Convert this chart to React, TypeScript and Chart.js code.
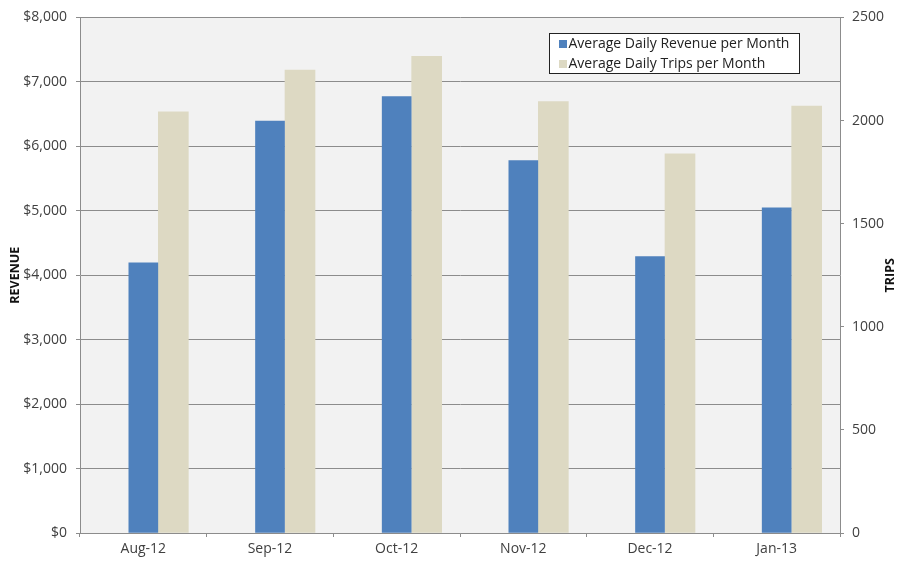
import React, { useEffect, useRef } from "react";
import { Chart, registerables } from "chart.js";

Chart.register(...registerables);

const months = ["Aug-12", "Sep-12", "Oct-12", "Nov-12", "Dec-12", "Jan-13"];
const revenue = [4190, 6390, 6770, 5780, 4290, 5045];
const trips = [2042, 2244, 2311, 2092, 1838, 2070];
const revenueTicks = [0, 1000, 2000, 3000, 4000, 5000, 6000, 7000, 8000];
const tripTicks = [0, 500, 1000, 1500, 2000, 2500];
const legendLabels = ["Average Daily Revenue per Month", "Average Daily Trips per Month"];
const seriesColors = ["#4f81bd", "#ddd9c3"];

const FONT = "'Open Sans', 'DejaVu Sans', sans-serif";
const TEXT = "#404040";
const GRID = "#8c8c8c";

const decorPlugin = {
  id: "decor",
  beforeDraw(chart: any) {
    const { ctx, chartArea } = chart;
    ctx.save();
    ctx.fillStyle = "#ffffff";
    ctx.fillRect(0, 0, chart.width, chart.height);
    ctx.fillStyle = "#f2f2f2";
    ctx.fillRect(chartArea.left, chartArea.top, chartArea.right - chartArea.left, chartArea.bottom - chartArea.top);
    ctx.restore();
  },
  afterDraw(chart: any) {
    const { ctx, chartArea } = chart;
    const midY = (chartArea.top + chartArea.bottom) / 2;
    ctx.save();
    ctx.fillStyle = "#111111";
    ctx.font = `bold 12.5px ${FONT}`;
    ctx.textAlign = "center";
    ctx.textBaseline = "middle";
    ctx.translate(15, midY);
    ctx.rotate(-Math.PI / 2);
    ctx.fillText("REVENUE", 0, 0);
    ctx.restore();

    ctx.save();
    ctx.fillStyle = "#111111";
    ctx.font = `bold 12.5px ${FONT}`;
    ctx.textAlign = "center";
    ctx.textBaseline = "middle";
    ctx.translate(890, midY);
    ctx.rotate(-Math.PI / 2);
    ctx.fillText("TRIPS", 0, 0);
    ctx.restore();

    // legend
    const lx = 549.5, ly = 33.5, lw = 250, lh = 40;
    ctx.save();
    ctx.fillStyle = "#ffffff";
    ctx.fillRect(lx, ly, lw, lh);
    ctx.strokeStyle = "#222222";
    ctx.lineWidth = 1;
    ctx.strokeRect(lx, ly, lw, lh);
    ctx.font = `14px ${FONT}`;
    ctx.textAlign = "left";
    ctx.textBaseline = "middle";
    legendLabels.forEach((label, i) => {
      const cy = 44 + i * 20;
      ctx.fillStyle = seriesColors[i];
      ctx.fillRect(559, cy - 4, 8, 8);
      ctx.fillStyle = "#222222";
      ctx.fillText(label, 568.5, cy + 0.5);
    });
    ctx.restore();
  },
};

export default function App() {
  const ref = useRef<HTMLCanvasElement | null>(null);

  useEffect(() => {
    if (!ref.current) return;
    const chart = new Chart(ref.current, {
      type: "bar",
      data: {
        labels: months,
        datasets: [
          {
            label: "spacer",
            data: months.map(() => null),
            yAxisID: "y",
            barThickness: 29,
            backgroundColor: "rgba(0,0,0,0)",
          },
          {
            label: legendLabels[0],
            data: revenue,
            yAxisID: "y",
            barThickness: 29,
            backgroundColor: seriesColors[0],
            borderWidth: 0,
          },
          {
            label: legendLabels[1],
            data: trips,
            yAxisID: "y1",
            barThickness: 30,
            backgroundColor: seriesColors[1],
            borderWidth: 0,
          },
        ],
      },
      options: {
        responsive: false,
        animation: false,
        devicePixelRatio: 1,
        layout: { padding: { top: 16, bottom: 0, left: 0, right: 0 } },
        plugins: {
          legend: { display: false },
          tooltip: { enabled: false },
        },
        scales: {
          x: {
            type: "category",
            grid: { offset: true, drawOnChartArea: false, tickLength: 4, color: GRID },
            border: { color: GRID },
            ticks: { font: { family: FONT, size: 14 }, color: TEXT, padding: 4, maxRotation: 0 },
            afterFit: (s: any) => { s.height = 28; },
          },
          y: {
            position: "left",
            min: 0,
            max: 8000,
            afterBuildTicks: (s: any) => { s.ticks = revenueTicks.map((v) => ({ value: v })); },
            ticks: {
              font: { family: FONT, size: 14 },
              color: TEXT,
              padding: 9,
              callback: (v: any) => "$" + Number(v).toLocaleString("en-US"),
            },
            grid: { color: GRID, tickLength: 4 },
            border: { color: GRID },
            afterFit: (s: any) => { s.width = 80; },
          },
          y1: {
            position: "right",
            min: 0,
            max: 2500,
            afterBuildTicks: (s: any) => { s.ticks = tripTicks.map((v) => ({ value: v })); },
            ticks: {
              font: { family: FONT, size: 14 },
              color: TEXT,
              padding: 8,
              callback: (v: any) => String(v),
            },
            grid: { drawOnChartArea: false, color: GRID, tickLength: 4 },
            border: { color: GRID },
            afterFit: (s: any) => { s.width = 60; },
          },
        },
      },
      plugins: [decorPlugin],
    } as any);
    return () => chart.destroy();
  }, []);

  return (
    <div style={{ position: "absolute", left: 0, top: 0, width: 900, height: 561, background: "#fff" }}>
      <canvas ref={ref} width={900} height={561} style={{ display: "block" }} />
    </div>
  );
}
